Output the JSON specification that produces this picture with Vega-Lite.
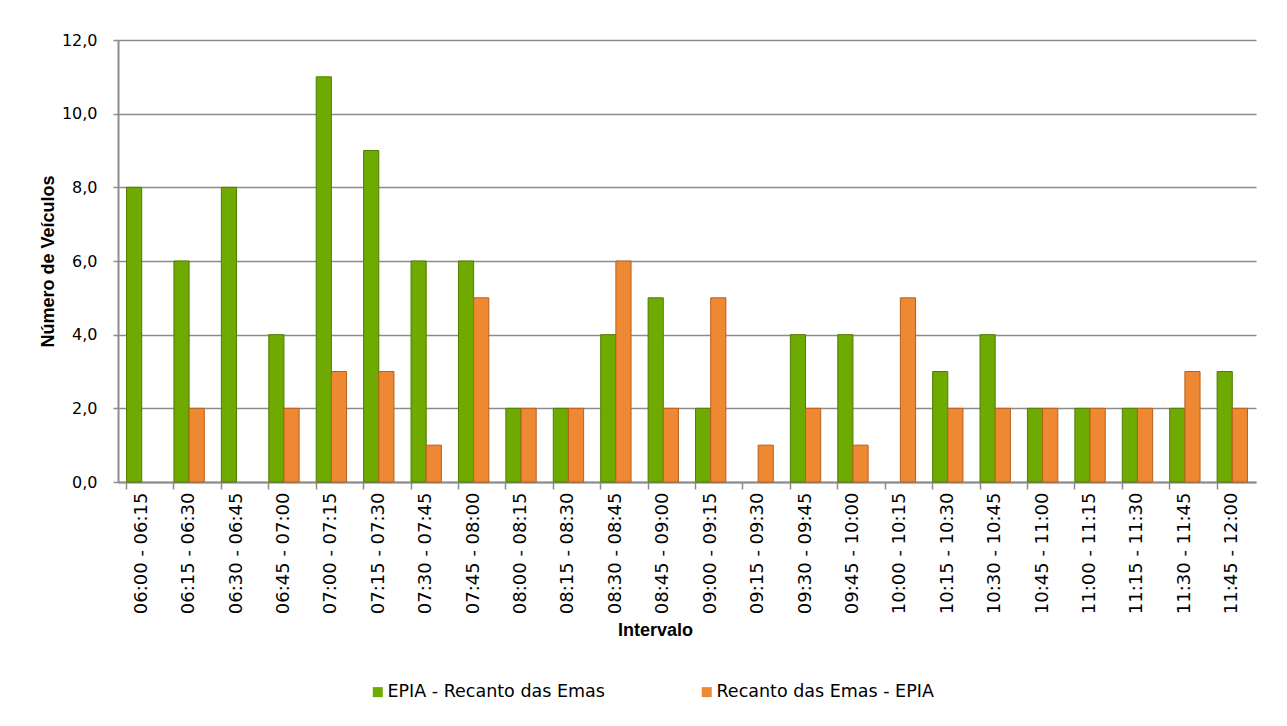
{
  "$schema": "https://vega.github.io/schema/vega-lite/v6.json",
  "width": 1138,
  "height": 442,
  "autosize": "none",
  "padding": {"left": 118, "top": 40, "right": 31, "bottom": 244},
  "background": "white",
  "config": {"view": {"stroke": null}, "font": "DejaVu Sans"},
  "data": {
    "values": [
      {"i": "06:00 - 06:15", "s": "EPIA - Recanto das Emas", "v": 8},
      {"i": "06:00 - 06:15", "s": "Recanto das Emas - EPIA", "v": 0},
      {"i": "06:15 - 06:30", "s": "EPIA - Recanto das Emas", "v": 6},
      {"i": "06:15 - 06:30", "s": "Recanto das Emas - EPIA", "v": 2},
      {"i": "06:30 - 06:45", "s": "EPIA - Recanto das Emas", "v": 8},
      {"i": "06:30 - 06:45", "s": "Recanto das Emas - EPIA", "v": 0},
      {"i": "06:45 - 07:00", "s": "EPIA - Recanto das Emas", "v": 4},
      {"i": "06:45 - 07:00", "s": "Recanto das Emas - EPIA", "v": 2},
      {"i": "07:00 - 07:15", "s": "EPIA - Recanto das Emas", "v": 11},
      {"i": "07:00 - 07:15", "s": "Recanto das Emas - EPIA", "v": 3},
      {"i": "07:15 - 07:30", "s": "EPIA - Recanto das Emas", "v": 9},
      {"i": "07:15 - 07:30", "s": "Recanto das Emas - EPIA", "v": 3},
      {"i": "07:30 - 07:45", "s": "EPIA - Recanto das Emas", "v": 6},
      {"i": "07:30 - 07:45", "s": "Recanto das Emas - EPIA", "v": 1},
      {"i": "07:45 - 08:00", "s": "EPIA - Recanto das Emas", "v": 6},
      {"i": "07:45 - 08:00", "s": "Recanto das Emas - EPIA", "v": 5},
      {"i": "08:00 - 08:15", "s": "EPIA - Recanto das Emas", "v": 2},
      {"i": "08:00 - 08:15", "s": "Recanto das Emas - EPIA", "v": 2},
      {"i": "08:15 - 08:30", "s": "EPIA - Recanto das Emas", "v": 2},
      {"i": "08:15 - 08:30", "s": "Recanto das Emas - EPIA", "v": 2},
      {"i": "08:30 - 08:45", "s": "EPIA - Recanto das Emas", "v": 4},
      {"i": "08:30 - 08:45", "s": "Recanto das Emas - EPIA", "v": 6},
      {"i": "08:45 - 09:00", "s": "EPIA - Recanto das Emas", "v": 5},
      {"i": "08:45 - 09:00", "s": "Recanto das Emas - EPIA", "v": 2},
      {"i": "09:00 - 09:15", "s": "EPIA - Recanto das Emas", "v": 2},
      {"i": "09:00 - 09:15", "s": "Recanto das Emas - EPIA", "v": 5},
      {"i": "09:15 - 09:30", "s": "EPIA - Recanto das Emas", "v": 0},
      {"i": "09:15 - 09:30", "s": "Recanto das Emas - EPIA", "v": 1},
      {"i": "09:30 - 09:45", "s": "EPIA - Recanto das Emas", "v": 4},
      {"i": "09:30 - 09:45", "s": "Recanto das Emas - EPIA", "v": 2},
      {"i": "09:45 - 10:00", "s": "EPIA - Recanto das Emas", "v": 4},
      {"i": "09:45 - 10:00", "s": "Recanto das Emas - EPIA", "v": 1},
      {"i": "10:00 - 10:15", "s": "EPIA - Recanto das Emas", "v": 0},
      {"i": "10:00 - 10:15", "s": "Recanto das Emas - EPIA", "v": 5},
      {"i": "10:15 - 10:30", "s": "EPIA - Recanto das Emas", "v": 3},
      {"i": "10:15 - 10:30", "s": "Recanto das Emas - EPIA", "v": 2},
      {"i": "10:30 - 10:45", "s": "EPIA - Recanto das Emas", "v": 4},
      {"i": "10:30 - 10:45", "s": "Recanto das Emas - EPIA", "v": 2},
      {"i": "10:45 - 11:00", "s": "EPIA - Recanto das Emas", "v": 2},
      {"i": "10:45 - 11:00", "s": "Recanto das Emas - EPIA", "v": 2},
      {"i": "11:00 - 11:15", "s": "EPIA - Recanto das Emas", "v": 2},
      {"i": "11:00 - 11:15", "s": "Recanto das Emas - EPIA", "v": 2},
      {"i": "11:15 - 11:30", "s": "EPIA - Recanto das Emas", "v": 2},
      {"i": "11:15 - 11:30", "s": "Recanto das Emas - EPIA", "v": 2},
      {"i": "11:30 - 11:45", "s": "EPIA - Recanto das Emas", "v": 2},
      {"i": "11:30 - 11:45", "s": "Recanto das Emas - EPIA", "v": 3},
      {"i": "11:45 - 12:00", "s": "EPIA - Recanto das Emas", "v": 3},
      {"i": "11:45 - 12:00", "s": "Recanto das Emas - EPIA", "v": 2}
    ]
  },
  "transform": [{"filter": "datum.v > 0"}],
  "mark": {"type": "bar", "strokeWidth": 1},
  "encoding": {
    "x": {
      "field": "i",
      "type": "nominal",
      "sort": null,
      "scale": {"paddingInner": 0.36, "paddingOuter": 0.18},
      "axis": {
        "title": "Intervalo",
        "titleFont": "Liberation Sans",
        "titleFontWeight": "bold",
        "titleFontSize": 18,
        "titleColor": "#000000",
        "titlePadding": 8,
        "titleX": 537,
        "labelAngle": -90,
        "labelFontSize": 18,
        "labelColor": "#000000",
        "labelPadding": 3,
        "bandPosition": 0,
        "tickSize": 7,
        "tickColor": "#8c8c8c",
        "tickWidth": 1.5,
        "domainColor": "#8c8c8c",
        "domainWidth": 2
      }
    },
    "xOffset": {
      "field": "s",
      "scale": {"domain": ["EPIA - Recanto das Emas", "Recanto das Emas - EPIA"]}
    },
    "y": {
      "field": "v",
      "type": "quantitative",
      "scale": {"domain": [0, 12]},
      "axis": {
        "values": [0, 2, 4, 6, 8, 10, 12],
        "labelExpr": "replace(format(datum.value, '.1f'), '.', ',')",
        "title": "Número de Veículos",
        "titleFont": "Liberation Sans",
        "titleFontWeight": "bold",
        "titleFontSize": 18,
        "titleColor": "#000000",
        "titlePadding": 4,
        "labelFontSize": 16,
        "labelColor": "#000000",
        "labelPadding": 16,
        "tickSize": 5,
        "tickColor": "#8c8c8c",
        "tickWidth": 1.5,
        "domainColor": "#8c8c8c",
        "domainWidth": 2,
        "grid": true,
        "gridColor": "#8c8c8c",
        "gridWidth": 1.5
      }
    },
    "color": {
      "field": "s",
      "type": "nominal",
      "scale": {
        "domain": ["EPIA - Recanto das Emas", "Recanto das Emas - EPIA"],
        "range": ["#6eaa00", "#ef8833"]
      },
      "legend": {
        "title": null,
        "orient": "none",
        "legendX": 251,
        "legendY": 643,
        "direction": "horizontal",
        "symbolType": "square",
        "symbolSize": 100,
        "symbolStrokeWidth": 0,
        "labelFontSize": 17.5,
        "labelColor": "#000000",
        "labelOffset": 1,
        "labelLimit": 400,
        "columnPadding": 93
      }
    },
    "stroke": {
      "field": "s",
      "type": "nominal",
      "scale": {
        "domain": ["EPIA - Recanto das Emas", "Recanto das Emas - EPIA"],
        "range": ["#4f7d00", "#b95f1b"]
      },
      "legend": null
    }
  }
}
